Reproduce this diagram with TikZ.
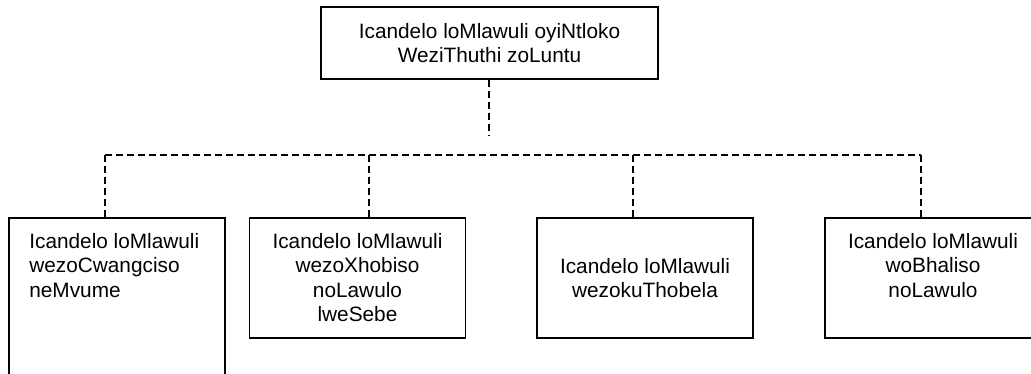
\documentclass[tikz,border=0pt]{standalone}
\usepackage{fontspec}
\setmainfont{Liberation Sans}
\usetikzlibrary{calc}
\newcommand{\boxfont}{\fontsize{15.6}{18.4}\selectfont}
\tikzset{
  headbox/.style={draw,rectangle,line width=1.4pt,minimum width=252.75pt,
    minimum height=54pt,align=center,inner sep=0pt,font=\boxfont},
  unitbox/.style={draw,rectangle,line width=1.4pt,minimum width=162pt,
    minimum height=90pt,inner sep=0pt,anchor=north},
  unittext/.style={inner sep=0pt,font=\boxfont},
  orglink/.style={line width=1.3pt,dash pattern=on 5.25pt off 3pt},
}

\begin{document}
\begin{tikzpicture}[x=0.75pt,y=-0.75pt]
  \clip (0,0) rectangle (1031,374);

  \node[headbox] (head) at (489.5,43) {Icandelo loMlawuli oyiNtloko\\WeziThuthi zoLuntu};

  % units
  \node[unitbox,minimum height=145pt] (b1) at (117,217) {};
  \node[unitbox] (b2) at (357.5,217) {};
  \node[unitbox] (b3) at (645,217) {};
  \node[unitbox] (b4) at (933,217) {};

  \node[unittext,anchor=north west,align=left] (t1) at ($(b1.north west)+(21,16)$)
    {Icandelo loMlawuli\\wezoCwangciso\\neMvume};
  \node[unittext,anchor=north,align=center] (t2) at ($(b2.north)+(0,16)$)
    {Icandelo loMlawuli\\wezoXhobiso\\noLawulo\\lweSebe};
  \node[unittext,align=center] (t3) at (b3.center)
    {Icandelo loMlawuli\\wezokuThobela};
  \node[unittext,anchor=north,align=center] (t4) at ($(b4.north)+(0,16)$)
    {Icandelo loMlawuli\\woBhaliso\\noLawulo};

  % dashed links
  \coordinate (stem) at (489,136);
  \coordinate (j1) at (105,155);
  \coordinate (j2) at (369,155);
  \coordinate (j3) at (633,155);
  \coordinate (j4) at (921,155);
  \draw[orglink] (head.south -| stem) -- (stem);
  \draw[orglink] (j1) -- (j4);
  \foreach \j/\b in {j1/b1,j2/b2,j3/b3,j4/b4}
    \draw[orglink] (\j) -- (\j |- \b.north);
\end{tikzpicture}
\end{document}
